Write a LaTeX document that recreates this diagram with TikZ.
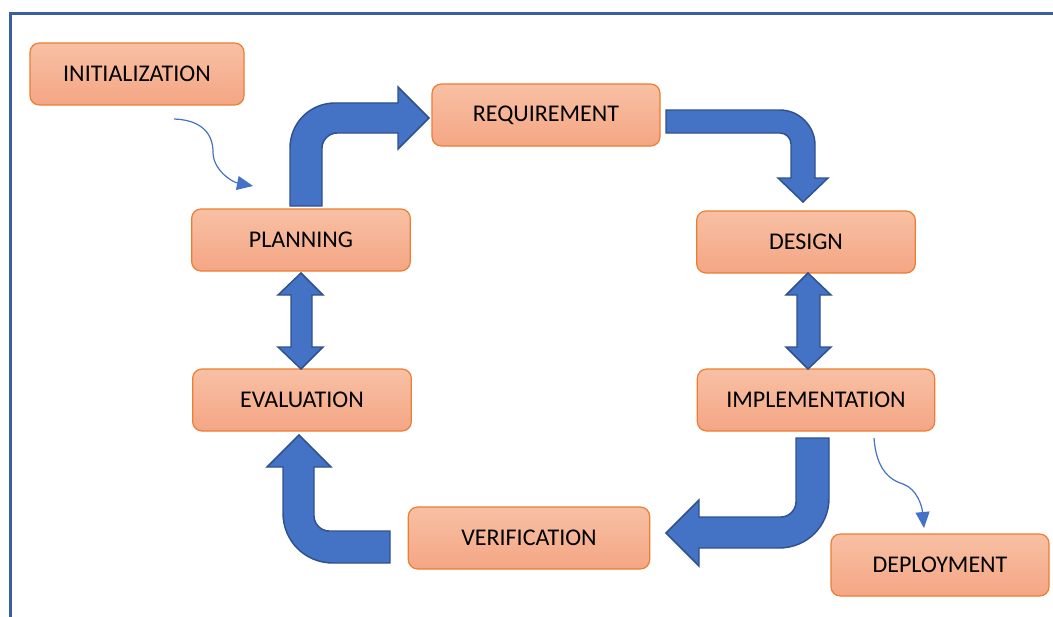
\documentclass[tikz,border=0pt]{standalone}
\usepackage{fontspec}
\setmainfont{Carlito}
\usetikzlibrary{arrows.meta}
\definecolor{boxtop}{RGB}{248,192,164}
\definecolor{boxbot}{RGB}{244,166,132}
\definecolor{boxline}{RGB}{237,125,49}
\definecolor{arrfill}{RGB}{68,114,196}
\definecolor{arrline}{RGB}{47,82,143}
\definecolor{frameblue}{RGB}{59,94,158}
\begin{document}
\begin{tikzpicture}[x=0.75pt,y=-0.75pt,
  stage/.style={draw=boxline,line width=0.9pt,rounded corners=7pt,
    top color=boxtop,bottom color=boxbot,minimum height=46.5pt,
    inner sep=0pt,font=\fontsize{18}{21}\selectfont},
  blockarrow/.style={fill=arrfill,draw=arrline,line width=1.1pt,line join=miter},
  thinarrow/.style={draw=arrfill,line width=0.9pt,
    -{Triangle[length=12pt,width=10.5pt]}}]
\useasboundingbox (0,0) rectangle (1053,617);
% frame
\draw[frameblue,line width=2pt] (10.5,617) -- (10.5,13.5) -- (1053,13.5);
% stages
\node[stage,minimum width=160.5pt] (init) at (137,74) {INITIALIZATION};
\node[stage,minimum width=171pt] (req) at (546,115) {REQUIREMENT};
\node[stage,minimum width=164pt] (plan) at (301,240) {PLANNING};
\node[stage,minimum width=164pt] (design) at (806,242) {DESIGN};
\node[stage,minimum width=164pt] (eval) at (302,400) {EVALUATION};
\node[stage,minimum width=178pt] (impl) at (816,400) {IMPLEMENTATION};
\node[stage,minimum width=181pt] (verif) at (529,538) {VERIFICATION};
\node[stage,minimum width=163.5pt] (deploy) at (940,565) {DEPLOYMENT};
% bent arrows
\draw[blockarrow] (290,206) -- (290,148)
 .. controls (290,123) and (310,103) .. (335,103)
 -- (398,103) -- (398,87) -- (429,118) -- (398,149) -- (398,133) -- (337,133)
 .. controls (329,133) and (322,140) .. (322,148)
 -- (322,206) -- cycle;
\draw[blockarrow] (666,110) -- (780,110)
 .. controls (799,110) and (815,126) .. (815,145)
 -- (815,178) -- (828,178) -- (803,202) -- (778,178) -- (791,178) -- (791,144)
 .. controls (791,138) and (786,133) .. (780,133)
 -- (666,133) -- cycle;
\draw[blockarrow] (796,438) -- (829,438) -- (829,498)
 .. controls (829,526) and (807,548) .. (779,548)
 -- (699,548) -- (699,566) -- (666,533) -- (699,500) -- (699,517) -- (781,517)
 .. controls (789,517) and (796,510) .. (796,502)
 -- cycle;
\draw[blockarrow] (390,531) -- (329,531)
 .. controls (321,531) and (314,524) .. (314,516)
 -- (314,467) -- (331,467) -- (299,435) -- (267,467) -- (283,467) -- (283,513)
 .. controls (283,541) and (305,563) .. (333,563)
 -- (390,563) -- cycle;
% double arrows
\draw[blockarrow] (301,273) -- (323,295) -- (312,295) -- (312,347) -- (323,347)
 -- (301,369) -- (278,347) -- (291,347) -- (291,295) -- (278,295) -- cycle;
\draw[blockarrow] (808,273) -- (831,295) -- (820,295) -- (820,347) -- (831,347)
 -- (808,369) -- (786,347) -- (797,347) -- (797,295) -- (786,295) -- cycle;
% thin arrows
\coordinate (s1) at (174,119);
\coordinate (e1) at (253,186);
\coordinate (s2) at (874,438);
\coordinate (e2) at (924,528);
\draw[thinarrow] (s1) .. controls (203,120) and (213,135) .. (213,152)
 .. controls (213,170) and (232,182) .. (e1);
\draw[thinarrow] (s2) .. controls (876,468) and (889,480) .. (903,484)
 .. controls (917,489) and (922,506) .. (e2);
\end{tikzpicture}
\end{document}
